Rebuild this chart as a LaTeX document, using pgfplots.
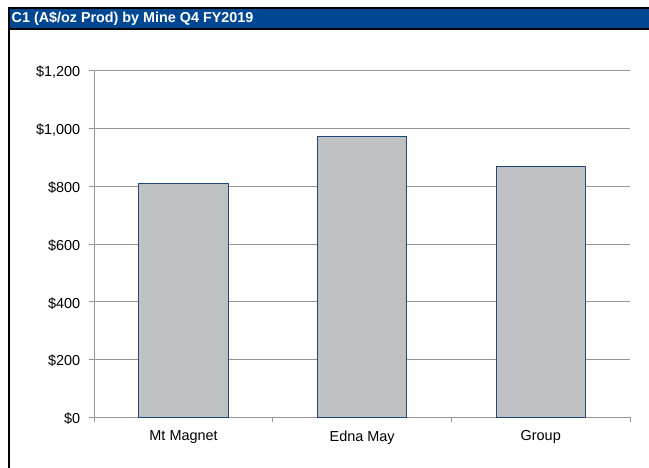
\documentclass[border=0pt]{standalone}
\usepackage{pgfplots}
\pgfplotsset{compat=1.18}
\usepackage{fontspec}
\setmainfont{Liberation Sans}
\definecolor{titleblue}{RGB}{0,71,145}
\definecolor{barfill}{RGB}{191,192,194}
\definecolor{baredge}{RGB}{31,73,125}
\definecolor{gridgray}{RGB}{150,150,150}
\begin{document}
\begin{tikzpicture}[x=1bp,y=1bp]
\path[use as bounding box] (0,0) rectangle (649,468);
% frame and title bar
\fill[black] (8,438) rectangle (649,461);
\fill[titleblue] (10,440) rectangle (649,459);
\fill[black] (8,0) rectangle (10,461);
\node[anchor=west,text=white,font=\fontsize{14.4}{16}\selectfont\bfseries,inner sep=0pt] at (11.5,449.5) {C1 (A\$/oz Prod) by Mine Q4 FY2019};
\begin{axis}[
  at={(94.3bp,50.7bp)}, anchor=south west,
  scale only axis, width=535.7bp, height=346.6bp,
  xmin=-0.5, xmax=2.5, ymin=0, ymax=1200,
  axis x line*=bottom, axis y line*=left,
  axis line style={gridgray, line width=0.8bp, -},
  xtick={0,1,2},
  xticklabels={Mt Magnet, Edna May, Group},
  minor xtick={-0.5,0.5,1.5,2.5},
  ytick={0,200,400,600,800,1000,1200},
  yticklabels={{\$0},{\$200},{\$400},{\$600},{\$800},{\$1,000},{\$1,200}},
  tick align=outside,
  major x tick style={draw=none},
  minor tick length=5bp, major tick length=5bp,
  tick style={gridgray, line width=0.8bp},
  ymajorgrids, grid style={gridgray, line width=0.8bp},
  ticklabel style={font=\fontsize{14.5}{16}\selectfont},
  yticklabel style={xshift=-5.5bp, yshift=-1.5bp},
  xticklabel style={yshift=-5bp},
  /pgf/number format/assume math mode=true,
]
\addplot[ybar, bar width=0.5, fill=barfill, draw=baredge, line width=1bp]
  coordinates {(0,808) (1,973) (2,867)};
\end{axis}
\end{tikzpicture}
\end{document}
